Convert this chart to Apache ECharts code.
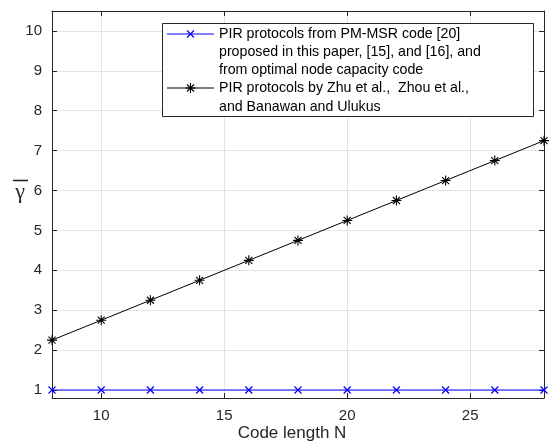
<!DOCTYPE html>
<html>
<head>
<meta charset="utf-8">
<script src="https://cdn.jsdelivr.net/npm/echarts@6/dist/echarts.min.js"></script>
<style>
html,body{margin:0;padding:0;background:#fff;}
#chart{width:550px;height:447px;}
</style>
</head>
<body>
<div id="chart"></div>
<script>
const codeLengths = [8, 10, 12, 14, 16, 18, 20, 22, 24, 26, 28];
const pmMsrValues = [1, 1, 1, 1, 1, 1, 1, 1, 1, 1, 1];
const zhuValues = [2.25, 2.75, 3.25, 3.75, 4.25, 4.75, 5.25, 5.75, 6.25, 6.75, 7.25];
const xTickValues = [10, 15, 20, 25];
const yTickValues = [1, 2, 3, 4, 5, 6, 7, 8, 9, 10];
const legendNames = [
  'PIR protocols from PM-MSR code [20]\nproposed in this paper, [15], and [16], and\nfrom optimal node capacity code',
  'PIR protocols by Zhu et al.,  Zhou et al.,\nand Banawan and Ulukus'
];
const xAxisTitle = 'Code length N';
const yAxisTitle = 'γ';

const AX = '#262626';
const FONT = 'Liberation Sans, Arial, Helvetica, sans-serif';
const xSym = 'path://M0,0L10,10M10,0L0,10';
const starSym = 'path://M5,0L5,10M0,5L10,5M1.5,1.5L8.5,8.5M8.5,1.5L1.5,8.5';

const chart = echarts.init(document.getElementById('chart'), null, {renderer: 'canvas'});

function xAx(pos, showLabel) {
  return {
    type: 'value', position: pos, min: 8, max: 28,
    axisLine: {show: true, onZero: false, lineStyle: {color: AX, width: 1}},
    axisTick: {show: true, inside: true, length: 5, customValues: xTickValues, lineStyle: {color: AX}},
    axisLabel: {show: showLabel, customValues: xTickValues, color: AX, fontSize: 15, fontFamily: FONT, margin: 10},
    splitLine: {show: showLabel, lineStyle: {color: '#e3e3e3', width: 1}}
  };
}
function yAx(pos, showLabel) {
  return {
    type: 'value', position: pos, min: 0.8, max: 10.5,
    axisLine: {show: true, onZero: false, lineStyle: {color: AX, width: 1}},
    axisTick: {show: true, inside: true, length: 5, customValues: yTickValues, lineStyle: {color: AX}},
    axisLabel: {show: showLabel, customValues: yTickValues, color: AX, fontSize: 15, fontFamily: FONT, margin: 10},
    splitLine: {show: showLabel, lineStyle: {color: '#e3e3e3', width: 1}}
  };
}

const legendX = 162, legendY = 23, legendW = 371, legendH = 93;
const lineH = 18.1;

function seg(x1, y1, x2, y2, color, w) {
  return {type: 'line', z: 11, shape: {x1: x1, y1: y1, x2: x2, y2: y2}, style: {stroke: color, lineWidth: w}};
}

chart.setOption({
  animation: false,
  backgroundColor: '#fff',
  grid: {left: 52, right: 6, top: 11, bottom: 49, containLabel: false},
  xAxis: [xAx('bottom', true), xAx('top', false)],
  yAxis: [yAx('left', true), yAx('right', false)],
  series: [
    {
      type: 'line', name: legendNames[0], xAxisIndex: 0, yAxisIndex: 0,
      data: codeLengths.map((x, i) => [x, pmMsrValues[i]]),
      lineStyle: {color: '#0000ff', width: 1},
      symbol: xSym, symbolSize: 7, showAllSymbol: true,
      itemStyle: {color: 'rgba(0,0,0,0)', borderColor: '#0000ff', borderWidth: 1.2},
      z: 3
    },
    {
      type: 'line', name: legendNames[1], xAxisIndex: 0, yAxisIndex: 0,
      data: codeLengths.map((x, i) => [x, zhuValues[i]]),
      lineStyle: {color: '#000000', width: 1},
      symbol: starSym, symbolSize: 10, showAllSymbol: true,
      itemStyle: {color: 'rgba(0,0,0,0)', borderColor: '#000000', borderWidth: 1.1},
      z: 3
    }
  ],
  graphic: [
    {type: 'text', x: 292, y: 433,
     style: {text: xAxisTitle, fontSize: 17, fontFamily: FONT, fill: AX, align: 'center', verticalAlign: 'middle'}},
    {type: 'text', x: 20, y: 192,
     style: {text: yAxisTitle, fontSize: 22, fontFamily: 'Liberation Serif, Times New Roman, serif', fill: AX, align: 'center', verticalAlign: 'middle'}},
    {type: 'line', shape: {x1: 13, y1: 180.5, x2: 28, y2: 180.5}, style: {stroke: AX, lineWidth: 1.6}},
    {type: 'rect', z: 10, shape: {x: legendX + 0.5, y: legendY + 0.5, width: legendW, height: legendH},
     style: {fill: '#fff', stroke: AX, lineWidth: 1}},
    seg(167, 34, 214, 34, '#0000ff', 1),
    seg(187, 30.5, 194, 37.5, '#0000ff', 1.2),
    seg(194, 30.5, 187, 37.5, '#0000ff', 1.2),
    {type: 'text', z: 11, x: 219, y: 25,
     style: {text: legendNames[0], fontSize: 14.2, fontFamily: FONT, fill: '#000', lineHeight: lineH}},
    seg(167, 88, 214, 88, '#000', 1),
    seg(190.5, 83, 190.5, 93, '#000', 1.1),
    seg(185.5, 88, 195.5, 88, '#000', 1.1),
    seg(187, 84.5, 194, 91.5, '#000', 1.1),
    seg(194, 84.5, 187, 91.5, '#000', 1.1),
    {type: 'text', z: 11, x: 219, y: 79.5,
     style: {text: legendNames[1], fontSize: 14.2, fontFamily: FONT, fill: '#000', lineHeight: lineH}}
  ]
});
</script>
</body>
</html>
